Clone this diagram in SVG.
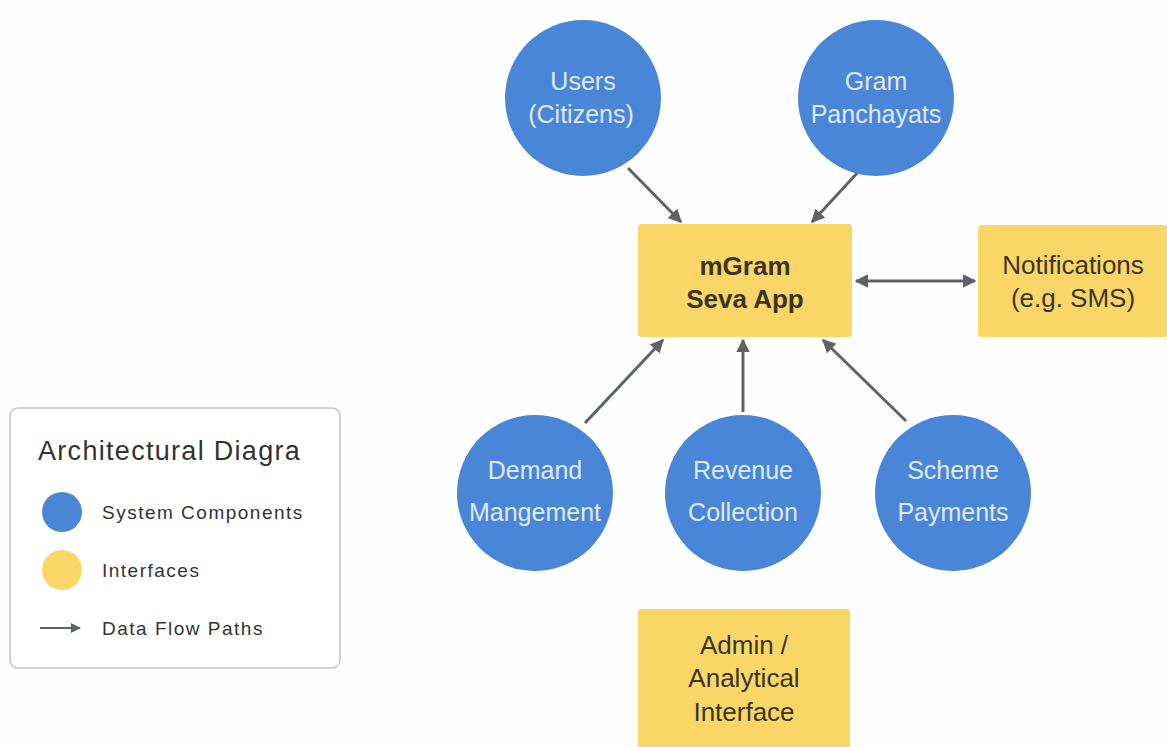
<svg xmlns="http://www.w3.org/2000/svg" width="1167" height="747" viewBox="0 0 1167 747">
<defs>
<marker id="ah" viewBox="0 0 10 10" refX="9" refY="5" markerWidth="4.5" markerHeight="4.5" orient="auto-start-reverse" markerUnits="strokeWidth">
<path d="M0,0 L10,5 L0,10 z" fill="#5f6368"/>
</marker>
<marker id="lh" viewBox="0 0 10 10" refX="9" refY="5" markerWidth="5" markerHeight="5" orient="auto" markerUnits="strokeWidth">
<path d="M0,0 L10,5 L0,10 z" fill="#5f6368"/>
</marker>
</defs>
<style>
.comp{fill:#4a86d8}
.intf{fill:#fad667}
.ct{font-family:"Liberation Sans",Arial,sans-serif;font-size:25px;fill:#dfe9f9;text-anchor:middle}
.it{font-family:"Liberation Sans",Arial,sans-serif;font-size:26px;fill:#3a3526;text-anchor:middle}
.bt{font-weight:bold}
.conn{stroke:#5f6368;stroke-width:3;fill:none;marker-end:url(#ah)}
.lt{font-family:"Liberation Sans",Arial,sans-serif;font-size:19px;letter-spacing:1.5px;fill:#333}
</style>
<rect width="1167" height="747" fill="#fefefe"/>

<g id="connectors">
<line class="conn" x1="628" y1="168" x2="681" y2="222"/>
<line class="conn" x1="860" y1="170" x2="812" y2="222"/>
<line class="conn" x1="856" y1="281" x2="975" y2="281" style="marker-start:url(#ah)"/>
<line class="conn" x1="585" y1="423" x2="663" y2="340"/>
<line class="conn" x1="743" y1="412" x2="743" y2="340"/>
<line class="conn" x1="906" y1="421" x2="823" y2="340"/>
</g>

<g id="users">
<circle class="comp" cx="583" cy="98" r="78"/>
<text class="ct" x="583" y="90">Users</text>
<text class="ct" x="581" y="123">(Citizens)</text>
</g>
<g id="gram">
<circle class="comp" cx="876" cy="98" r="78"/>
<text class="ct" x="876" y="90">Gram</text>
<text class="ct" x="876" y="123">Panchayats</text>
</g>
<g id="mgram">
<rect class="intf" x="638" y="224" width="214" height="113" rx="4"/>
<text class="it bt" x="745" y="275">mGram</text>
<text class="it bt" x="745" y="308">Seva App</text>
</g>
<g id="notifications">
<rect class="intf" x="978" y="225" width="190" height="112" rx="4"/>
<text class="it" x="1073" y="274">Notifications</text>
<text class="it" x="1073" y="307">(e.g. SMS)</text>
</g>
<g id="demand">
<circle class="comp" cx="535" cy="493" r="78"/>
<text class="ct" x="535" y="479">Demand</text>
<text class="ct" x="535" y="521">Mangement</text>
</g>
<g id="revenue">
<circle class="comp" cx="743" cy="493" r="78"/>
<text class="ct" x="743" y="479">Revenue</text>
<text class="ct" x="743" y="521">Collection</text>
</g>
<g id="scheme">
<circle class="comp" cx="953" cy="493" r="78"/>
<text class="ct" x="953" y="479">Scheme</text>
<text class="ct" x="953" y="521">Payments</text>
</g>
<g id="admin">
<rect class="intf" x="638" y="609" width="212" height="150" rx="4"/>
<text class="it" x="744" y="654">Admin /</text>
<text class="it" x="744" y="687">Analytical</text>
<text class="it" x="744" y="721">Interface</text>
</g>

<g id="legend">
<rect x="10" y="408" width="330" height="260" rx="8" fill="#fff" stroke="#c4c4c4" stroke-width="1.5"/>
<text x="38" y="460" font-family="Liberation Sans,Arial,sans-serif" font-size="27" letter-spacing="1.3" fill="#333">Architectural Diagra</text>
<circle class="comp" cx="62" cy="512" r="20"/>
<text class="lt" x="102" y="519">System Components</text>
<circle class="intf" cx="62" cy="570" r="20"/>
<text class="lt" x="102" y="577">Interfaces</text>
<line x1="40" y1="628" x2="80" y2="628" stroke="#5f6368" stroke-width="2" marker-end="url(#lh)"/>
<text class="lt" x="102" y="635">Data Flow Paths</text>
</g>
</svg>
